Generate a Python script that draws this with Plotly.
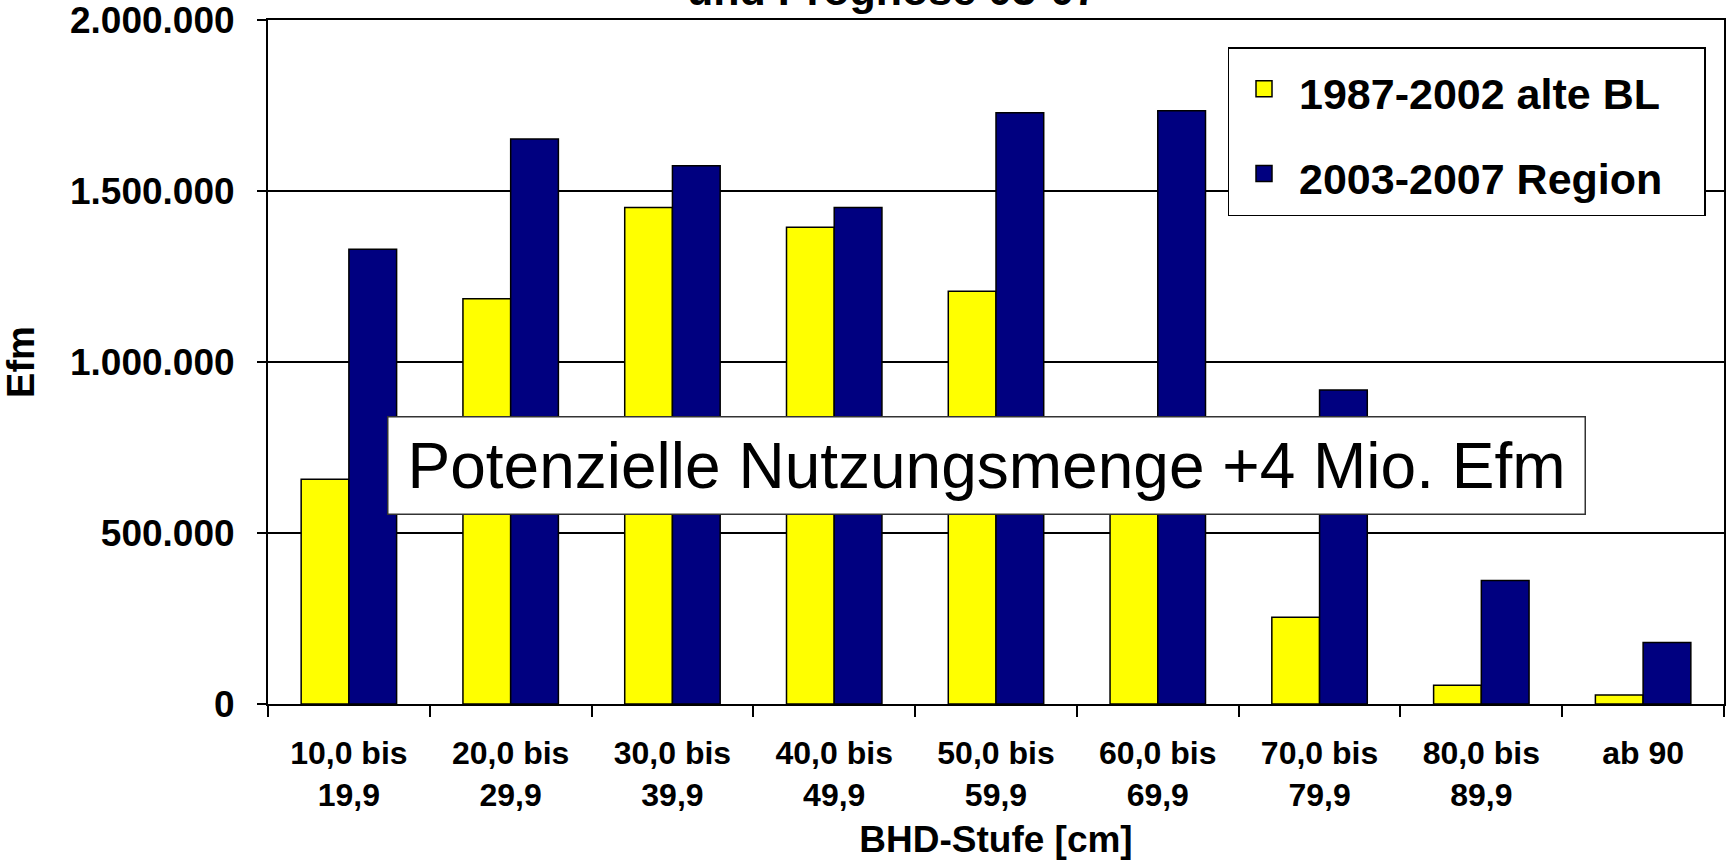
import plotly.graph_objects as go

categories = ["10,0 bis<br>19,9", "20,0 bis<br>29,9", "30,0 bis<br>39,9", "40,0 bis<br>49,9",
              "50,0 bis<br>59,9", "60,0 bis<br>69,9", "70,0 bis<br>79,9", "80,0 bis<br>89,9", "ab 90"]
alte_bl = [657000, 1185000, 1452000, 1394000, 1207000, 780000, 254000, 55000, 26000]
region = [1330000, 1652000, 1574000, 1452000, 1729000, 1735000, 918000, 361000, 180000]

series_names = ["1987-2002 alte BL", "2003-2007 Region"]
series_colors = ["#FFFF00", "#000080"]

FONT = "Liberation Sans, Arial, Helvetica, sans-serif"
PAD = "\u00a0" * 3

fig = go.Figure()
for name, vals, col in zip(series_names, [alte_bl, region], series_colors):
    fig.add_trace(go.Bar(
        x=categories, y=vals, name=name, legendgroup=name, showlegend=False,
        marker=dict(color=col, line=dict(color="black", width=1.5)),
    ))
    # legend entry with a larger square key (same series)
    fig.add_trace(go.Scatter(
        x=[None], y=[None], mode="markers", legendgroup=name, showlegend=True,
        name=f"<span style='font-size:43px'><b>{name}</b>{PAD}</span>",
        marker=dict(symbol="square", size=16, color=col, line=dict(color="black", width=1.5)),
    ))

fig.update_layout(
    width=1727, height=860,
    margin=dict(l=268, r=3, t=20, b=156),
    paper_bgcolor="white", plot_bgcolor="white",
    separators=",.",
    barmode="group", bargap=0.41, bargroupgap=0,
    font=dict(family=FONT, color="black"),
    showlegend=True,
    legend=dict(
        x=0.659, y=0.9605, xanchor="left", yanchor="top",
        bgcolor="white", bordercolor="black", borderwidth=1.5,
        font=dict(family=FONT, size=52, color="black"),
        traceorder="grouped", tracegroupgap=14, itemwidth=60,
    ),
    xaxis=dict(
        type="category", tickson="boundaries", ticks="outside", ticklen=11, tickwidth=1.5,
        tickcolor="black", showline=True, linecolor="black", linewidth=2, mirror=True,
        tickfont=dict(family=FONT, size=32, color="black", weight="bold"),
        ticklabelstandoff=20,
        title=dict(text="<b>BHD-Stufe [cm]</b>", font=dict(family=FONT, size=37, color="black"), standoff=14),
        automargin=False,
    ),
    yaxis=dict(
        range=[0, 2000000], dtick=500000, tickformat=",d",
        showgrid=True, gridcolor="black", gridwidth=1.5,
        ticks="outside", ticklen=9, tickwidth=1.5, tickcolor="black",
        showline=True, linecolor="black", linewidth=2, mirror=True, zeroline=False,
        tickfont=dict(family=FONT, size=37, color="black", weight="bold"),
        ticklabelstandoff=15, ticklabeloverflow="allow",
        title=dict(text="<b>Efm</b>", font=dict(family=FONT, size=38, color="black"), standoff=27),
        automargin=False,
    ),
)

fig.add_annotation(
    text="Potenzielle Nutzungsmenge +4 Mio. Efm",
    xref="paper", yref="paper", x=0.4938, y=0.348, xanchor="center", yanchor="middle",
    showarrow=False, font=dict(family=FONT, size=64, color="black"),
    bgcolor="white", bordercolor="#333333", borderwidth=1.5, borderpad=8,
    width=1180, height=80,
)

fig.add_annotation(
    text="<b>und Prognose 03-07</b>",
    xref="paper", yref="paper", x=(892 - 268) / 1456, y=1.0, yanchor="middle", xanchor="center",
    showarrow=False, font=dict(family=FONT, size=43, color="black"), yshift=30,
)

fig.write_html("out.html", config={"displayModeBar": False})

with open("out.html", "r", encoding="utf-8") as f:
    html = f.read()
html = html.replace("<head>", "<head><style>html,body{margin:0;padding:0;overflow:hidden}</style>", 1)
with open("out.html", "w", encoding="utf-8") as f:
    f.write(html)
